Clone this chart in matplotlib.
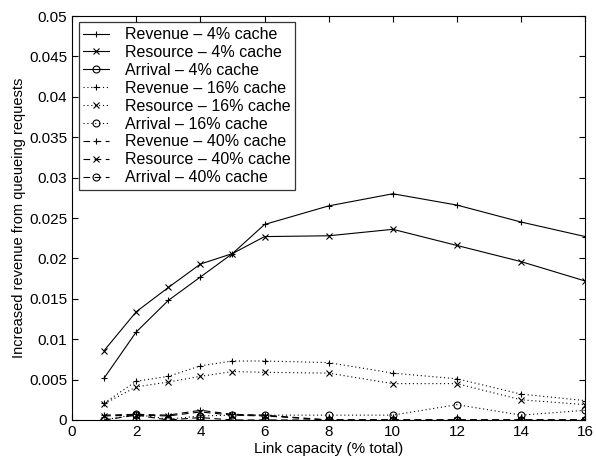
import matplotlib.pyplot as plt

plt.rcParams["font.family"] = ["Liberation Sans", "DejaVu Sans"]
plt.rcParams["font.size"] = 11

# Link capacity (% total)
capacity = [1, 2, 3, 4, 5, 6, 8, 10, 12, 14, 16]

# 4% cache
revenue_4 = [0.0052, 0.0109, 0.0148, 0.0177, 0.0206, 0.0242, 0.0265, 0.0280, 0.0266, 0.0245, 0.0227]
resource_4 = [0.0086, 0.0134, 0.0164, 0.0193, 0.0206, 0.0227, 0.0228, 0.0236, 0.0216, 0.0196, 0.0172]
arrival_4 = [0, 0, 0, 0, 0, 0, 0, 0, 0, 0, 0]

# 16% cache
revenue_16 = [0.0021, 0.0048, 0.0054, 0.0067, 0.0073, 0.0073, 0.0071, 0.0058, 0.0051, 0.0032, 0.0024]
resource_16 = [0.0020, 0.0041, 0.0047, 0.0054, 0.0060, 0.0059, 0.0058, 0.0045, 0.0045, 0.0025, 0.0019]
arrival_16 = [0, 0.0007, 0.0001, 0.0005, 0.0006, 0.0006, 0.0006, 0.0006, 0.0019, 0.0006, 0.0012]

# 40% cache
revenue_40 = [0.0006, 0.0007, 0.0006, 0.0012, 0.0007, 0.0006, 0, 0, 0, 0, 0]
resource_40 = [0.0005, 0.0006, 0.0005, 0.0010, 0.0006, 0.0005, 0, 0, 0, 0, 0]
arrival_40 = [0, 0.0006, 0, 0.0003, 0, 0, 0, 0, 0, 0, 0]

dotted = (0, (1, 2.5))
dashed = (0, (6, 4))

series = [
    ("Revenue \u2013 4% cache", revenue_4, "-", "+"),
    ("Resource \u2013 4% cache", resource_4, "-", "x"),
    ("Arrival \u2013 4% cache", arrival_4, "-", "o"),
    ("Revenue \u2013 16% cache", revenue_16, dotted, "+"),
    ("Resource \u2013 16% cache", resource_16, dotted, "x"),
    ("Arrival \u2013 16% cache", arrival_16, dotted, "o"),
    ("Revenue \u2013 40% cache", revenue_40, dashed, "+"),
    ("Resource \u2013 40% cache", resource_40, dashed, "x"),
    ("Arrival \u2013 40% cache", arrival_40, dashed, "o"),
]

fig = plt.figure(figsize=(5.96, 4.58), dpi=100)
ax = fig.add_axes([0.121, 0.083, 0.861, 0.882])

for label, vals, ls, mk in series:
    ax.plot(capacity, vals, color="black", linestyle=ls, linewidth=0.8,
            marker=mk, markersize=5, markerfacecolor="none",
            markeredgewidth=0.8, label=label)

ax.set_xlim(0, 16)
ax.set_ylim(0, 0.05)
ax.set_xticks(range(0, 17, 2))
ax.set_yticks([i * 0.005 for i in range(11)])
ax.set_yticklabels(["0", "0.005", "0.01", "0.015", "0.02", "0.025",
                    "0.03", "0.035", "0.04", "0.045", "0.05"])
ax.tick_params(direction="in", top=True, right=True, length=4, width=0.8, labelsize=11)
for s in ax.spines.values():
    s.set_linewidth(0.8)

ax.set_xlabel("Link capacity (% total)", fontsize=11, labelpad=2)
ax.set_ylabel("Increased revenue from queueing requests", fontsize=10.5, labelpad=2)

leg = ax.legend(loc="upper left", fontsize=11.5, frameon=True, fancybox=False,
                edgecolor="black", handlelength=1.6, labelspacing=0.18,
                borderaxespad=0.4, handletextpad=1.0, borderpad=0.3)
leg.get_frame().set_linewidth(0.9)

fig.savefig("out.png", dpi=100)
